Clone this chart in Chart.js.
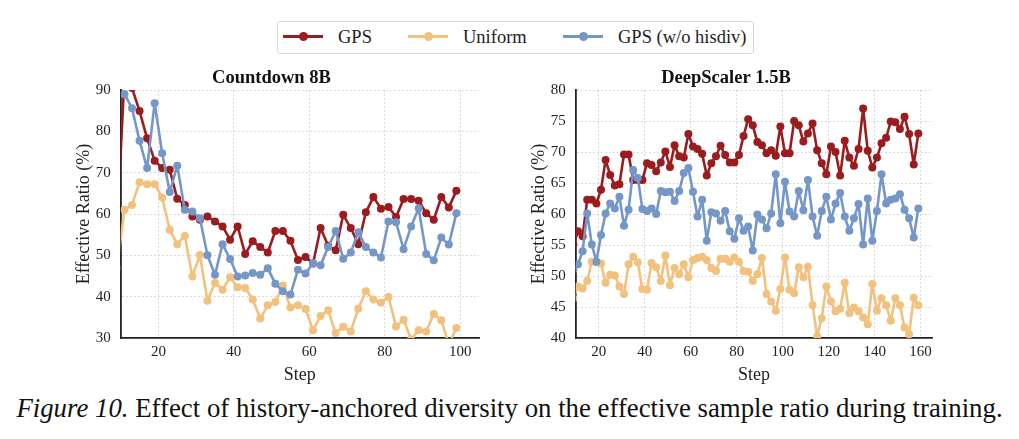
<!DOCTYPE html>
<html>
<head>
<meta charset="utf-8">
<script src="https://cdn.jsdelivr.net/npm/chart.js@4.4.1/dist/chart.umd.min.js"></script>
<style>
  body { margin: 0; width: 1019px; height: 439px; background: #fff; position: relative; overflow: hidden; font-family: 'Liberation Serif', 'DejaVu Serif', serif; }
  .panel { position: absolute; top: 60px; }
  #legend { position: absolute; left: 277px; top: 21px; width: 477px; height: 33px; border: 1px solid #d9d9d9; border-radius: 3px; box-sizing: border-box; }
  .item { position: absolute; top: 0; height: 31px; line-height: 31px; font-size: 18.5px; color: #222; white-space: nowrap; }
  .swatch { position: absolute; top: 13px; width: 40px; height: 3px; }
  .dot { position: absolute; top: -3px; left: 15.5px; width: 9px; height: 9px; border-radius: 50%; }
  #caption { position: absolute; left: 0; top: 392px; width: 1019px; text-align: center; font-size: 26.8px; line-height: 32px; color: #111; white-space: nowrap; }
</style>
</head>
<body>
<div id="legend"></div>
<div class="panel" style="left:60px"><canvas id="left" width="423" height="330"></canvas></div>
<div class="panel" style="left:515px"><canvas id="right" width="422" height="330"></canvas></div>
<div id="caption"><i>Figure 10.</i> Effect of history-anchored diversity on the effective sample ratio during training.</div>
<script>
// series names and colours
const seriesNames = ['GPS', 'Uniform', 'GPS (w/o hisdiv)']
const seriesColors = ['#9b1c1f', '#f2c17d', '#7597c8']

// Countdown 8B
const leftSteps = [9, 11, 13, 15, 17, 19, 21, 23, 25, 27, 29, 31, 33, 35, 37, 39, 41, 43, 45, 47,
    49, 51, 53, 55, 57, 59, 61, 63, 65, 67, 69, 71, 73, 75, 77, 79, 81, 83, 85, 87,
    89, 91, 93, 95, 97, 99]
const leftGps = [57, 93, 90.5, 84.9, 78.3, 72.9, 71.1, 70.7, 63.7, 62.2, 59.4, 58.6, 59.4, 58.2, 57.0, 53.8, 57.0, 50.3, 53.4, 52.0,
    50.7, 55.9, 55.9, 53.5, 48.9, 49.6, 48.0, 56.6, 52.3, 51.2, 59.8, 56.6, 52.7, 60.4, 64.1, 61.3, 61.7, 59.3, 63.6, 63.6,
    63.2, 60.2, 58.6, 64.1, 61.6, 65.6]
const leftUniform = [47, 61.0, 62.2, 67.7, 67.2, 67.2, 64.0, 56.2, 52.7, 54.7, 44.9, 50.1, 39.0, 43.3, 41.7, 44.7, 42.3, 42.1, 39.3, 34.7,
    37.9, 38.7, 42.7, 37.4, 37.9, 37.0, 31.9, 35.3, 36.7, 31.2, 32.7, 31.6, 37.1, 41.3, 39.3, 38.5, 39.9, 32.8, 34.4, 29.7,
    31.9, 31.6, 35.8, 34.3, 28.5, 32.4]
const leftNoHisdiv = [95, 89, 85.6, 77.7, 71.1, 86.8, 74.7, 65.3, 71.7, 61.0, 60.6, 59.0, 50.0, 45.3, 52.7, 49.1, 44.9, 45.1, 45.7, 45.3,
    46.9, 43.1, 41.3, 40.5, 46.5, 45.6, 48.1, 47.6, 52.0, 55.9, 49.2, 50.7, 55.6, 52.0, 50.7, 49.5, 58.2, 58.0, 51.5, 57.0,
    61.4, 50.3, 48.8, 54.3, 52.6, 60.2]
const leftXTicks = [20, 40, 60, 80, 100]
const leftYTicks = [30, 40, 50, 60, 70, 80, 90]

// DeepScaler 1.5B
const rightSteps = [9, 11, 13, 15, 17, 19, 21, 23, 25, 27, 29, 31, 33, 35, 37, 39, 41, 43, 45, 47,
    49, 51, 53, 55, 57, 59, 61, 63, 65, 67, 69, 71, 73, 75, 77, 79, 81, 83, 85, 87,
    89, 91, 93, 95, 97, 99, 101, 103, 105, 107, 109, 111, 113, 115, 117, 119, 121, 123, 125, 127,
    129, 131, 133, 135, 137, 139, 141, 143, 145, 147, 149, 151, 153, 155, 157, 159]
const rightGps = [55.1, 57.2, 56.4, 62.3, 62.3, 61.7, 63.9, 68.7, 66.3, 64.6, 64.8, 69.6, 69.6, 65.5, 65.5, 65.5, 68.2, 67.9, 66.9, 68.3,
    70.1, 67.6, 71.1, 69.3, 69.1, 72.9, 70.9, 70.5, 69.7, 66.2, 68.2, 69.3, 71.0, 69.5, 68.3, 68.3, 69.5, 72.6, 75.3, 74.3,
    71.6, 71.1, 69.8, 70.3, 69.4, 74.1, 69.8, 69.8, 75.0, 74.3, 71.7, 73.0, 74.6, 70.3, 68.2, 66.4, 70.9, 70.0, 66.2, 71.8,
    69.1, 67.8, 70.5, 77.0, 70.2, 67.5, 69.1, 71.4, 72.3, 74.9, 74.8, 73.7, 75.7, 72.9, 68.0, 73.0]
const rightUniform = [46.4, 48.3, 48.0, 49.2, 52.3, 52.2, 52.0, 48.9, 50.2, 50.1, 48.3, 47.1, 51.9, 53.1, 52.2, 47.9, 47.8, 52.1, 51.4, 49.2,
    53.3, 48.5, 51.3, 50.3, 51.9, 49.8, 52.6, 52.9, 53.1, 52.6, 51.3, 50.8, 52.8, 52.8, 52.3, 53.0, 52.3, 50.8, 50.7, 49.2,
    50.3, 52.9, 47.1, 45.9, 44.4, 47.9, 53.0, 47.8, 47.2, 51.4, 49.8, 51.5, 45.3, 40.3, 43.2, 48.3, 45.9, 44.3, 44.7, 48.9,
    44.0, 44.9, 44.3, 43.3, 42.2, 48.7, 44.4, 46.4, 45.3, 42.8, 46.4, 45.3, 41.7, 40.6, 46.5, 45.3]
const rightNoHisdiv = [51.0, 51.9, 54.0, 60.1, 55.1, 52.3, 56.6, 60.1, 61.7, 60.9, 62.8, 58.1, 60.7, 67.1, 65.8, 60.8, 60.5, 60.9, 60.0, 63.7,
    63.5, 63.6, 62.1, 63.7, 66.6, 67.4, 63.6, 59.6, 62.3, 55.7, 60.3, 60.1, 58.9, 60.5, 57.2, 56.0, 59.3, 57.3, 58.0, 54.1,
    59.9, 59.1, 57.7, 60.1, 66.4, 58.5, 65.2, 60.4, 59.6, 63.7, 60.6, 65.5, 59.6, 56.5, 60.5, 62.8, 59.1, 61.7, 63.4, 59.6,
    57.3, 59.3, 61.6, 55.1, 62.5, 55.7, 60.5, 66.4, 61.7, 62.3, 62.5, 63.2, 60.7, 59.3, 56.2, 60.9]
const rightXTicks = [20, 40, 60, 80, 100, 120, 140, 160]
const rightYTicks = [40, 45, 50, 55, 60, 65, 70, 75, 80]

Chart.defaults.font.family = "'Liberation Serif', 'DejaVu Serif', serif"
Chart.defaults.color = '#222'

function toPoints(steps, values) {
    return steps.map((s, i) => ({ x: s, y: values[i] }))
}

function lineSet(idx, steps, values) {
    return {
        label: seriesNames[idx],
        data: toPoints(steps, values),
        borderColor: seriesColors[idx],
        backgroundColor: seriesColors[idx],
        borderWidth: 2.6,
        borderJoinStyle: 'round',
        borderCapStyle: 'round',
        pointRadius: 4,
        pointBorderWidth: 0,
        pointHoverRadius: 4,
        tension: 0
    }
}

function makeChart(id, title, steps, gps, uniform, noHisdiv, xMin, xMax, xTicks, yTicks) {
    const grid = { color: '#cfcfcf', lineWidth: 0.8, drawTicks: false }
    const border = { display: true, color: '#222', width: 1.8, dash: [2, 2] }
    // blue first so it is drawn on top, red last (bottom), as in the figure
    return new Chart(document.getElementById(id), {
        type: 'line',
        data: {
            datasets: [
                lineSet(2, steps, noHisdiv),
                lineSet(1, steps, uniform),
                lineSet(0, steps, gps)
            ]
        },
        options: {
            responsive: false,
            animation: false,
            devicePixelRatio: 1,
            events: [],
            layout: { padding: { top: 6.9, left: 0, right: 0, bottom: 0 } },
            plugins: {
                legend: { display: false },
                tooltip: { enabled: false },
                title: {
                    display: true,
                    text: title,
                    color: '#111',
                    font: { size: 18.5, weight: 'bold' },
                    padding: { top: 0, bottom: 0.9 }
                }
            },
            scales: {
                x: {
                    type: 'linear',
                    min: xMin,
                    max: xMax,
                    grid: grid,
                    border: border,
                    afterBuildTicks: (s) => { s.ticks = xTicks.map(v => ({ value: v })) },
                    afterFit: (s) => { s.height = 52 },
                    ticks: { padding: 5, font: { size: 15 }, color: '#222', maxRotation: 0 },
                    title: { display: true, text: 'Step', font: { size: 18 }, color: '#222', padding: { top: 0, bottom: 4.2 } }
                },
                y: {
                    min: yTicks[0],
                    max: yTicks[yTicks.length - 1],
                    grid: grid,
                    border: border,
                    afterBuildTicks: (s) => { s.ticks = yTicks.map(v => ({ value: v })) },
                    afterFit: (s) => { s.width = 60.7 },
                    ticks: { padding: 10, font: { size: 15 }, color: '#222' },
                    title: { display: true, text: 'Effective Ratio (%)', font: { size: 18 }, color: '#222', padding: { top: 13.2, bottom: 0 } }
                }
            }
        }
    })
}

makeChart('left', 'Countdown 8B', leftSteps, leftGps, leftUniform, leftNoHisdiv, 10, 105, leftXTicks, leftYTicks)
makeChart('right', 'DeepScaler 1.5B', rightSteps, rightGps, rightUniform, rightNoHisdiv, 10, 165, rightXTicks, rightYTicks)

// shared legend above both panels
const legend = document.getElementById('legend')
const swatchLeft = [5, 130, 285]
const textLeft = [60, 185, 340]
seriesNames.forEach((name, i) => {
    const sw = document.createElement('div')
    sw.className = 'swatch'
    sw.style.left = swatchLeft[i] + 'px'
    sw.style.background = seriesColors[i]
    const dot = document.createElement('div')
    dot.className = 'dot'
    dot.style.background = seriesColors[i]
    sw.appendChild(dot)
    legend.appendChild(sw)
    const txt = document.createElement('div')
    txt.className = 'item'
    txt.style.left = textLeft[i] + 'px'
    txt.textContent = name
    legend.appendChild(txt)
})
</script>
</body>
</html>
